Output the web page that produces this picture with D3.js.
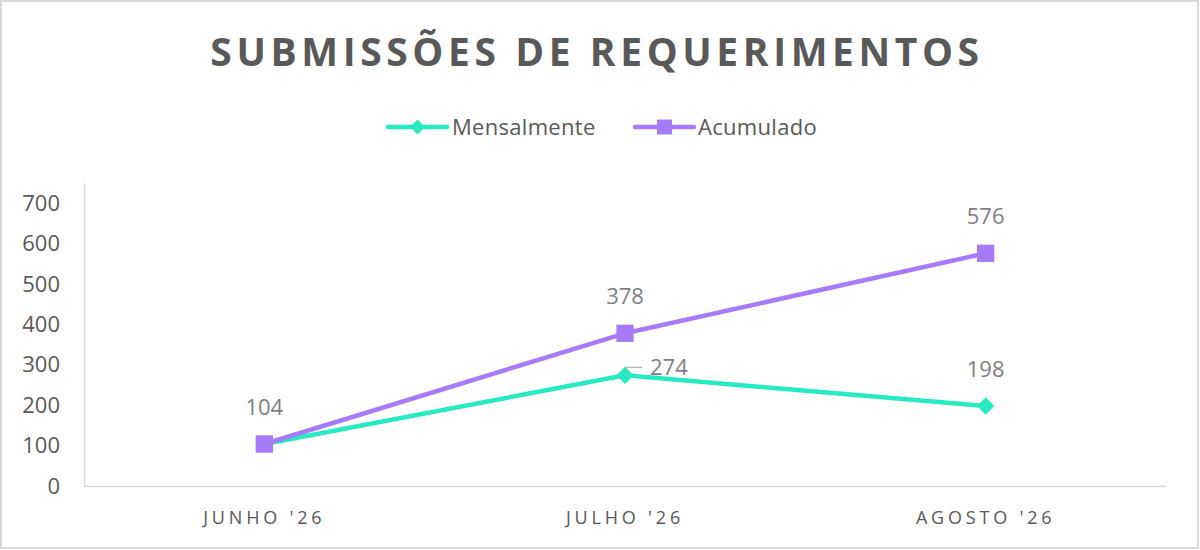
<!DOCTYPE html>
<html>
<head>
<meta charset="utf-8">
<script src="https://cdn.jsdelivr.net/npm/d3@7"></script>
<style>
  body { margin: 0; background: #fff; }
  text { font-family: "Open Sans", sans-serif; }
</style>
</head>
<body>
<div id="chart"></div>
<script>
const categories = ["JUNHO '26", "JULHO '26", "AGOSTO '26"];
const mensalmente = [104, 274, 198];
const acumulado = [104, 378, 576];
const yTicks = [0, 100, 200, 300, 400, 500, 600, 700];

const W = 1200, H = 550;
const svg = d3.select("#chart").append("svg")
    .attr("width", W)
    .attr("height", H);

svg.append("rect")
    .attr("x", 1).attr("y", 1)
    .attr("width", W - 3).attr("height", H - 3)
    .attr("fill", "#fff")
    .attr("stroke", "#d9d9d9")
    .attr("stroke-width", 2);

const margin = { top: 183, right: 34, bottom: 64, left: 84 };
const width = W - margin.left - margin.right,
      height = H - margin.top - margin.bottom;

const x = d3.scaleBand().domain(categories).range([0, width]);
const y = d3.scaleLinear().domain([0, 750]).range([height, 0]);

const g = svg.append("g")
    .attr("transform", `translate(${margin.left},${margin.top})`);

// title
svg.append("text")
    .attr("x", 597)
    .attr("y", 66)
    .attr("text-anchor", "middle")
    .attr("font-size", 39)
    .attr("font-weight", "bold")
    .attr("letter-spacing", 4.6)
    .attr("fill", "#595959")
    .text("SUBMISSÕES DE REQUERIMENTOS");

// axes
const yAxis = g.append("g")
    .call(d3.axisLeft(y).tickValues(yTicks).tickSize(0).tickPadding(24));
yAxis.select(".domain").attr("stroke", "#d9d9d9").attr("stroke-width", 1.5);
yAxis.selectAll("text")
    .attr("font-size", 22)
    .attr("fill", "#595959")
    .attr("font-family", "Open Sans, sans-serif");

const xAxis = g.append("g")
    .attr("transform", `translate(0,${height})`)
    .call(d3.axisBottom(x).tickSize(0).tickPadding(25));
xAxis.select(".domain").attr("stroke", "#d9d9d9").attr("stroke-width", 1.5);
xAxis.selectAll("text")
    .attr("font-size", 18)
    .attr("letter-spacing", 3.8)
    .attr("fill", "#595959")
    .attr("font-family", "Open Sans, sans-serif");

const cx = d => x(d) + x.bandwidth() / 2;

const series = [
    { name: "Mensalmente", values: mensalmente, color: "#26EBC1", symbol: d3.symbolSquare, size: 150, rot: 45 },
    { name: "Acumulado", values: acumulado, color: "#A77BF7", symbol: d3.symbolSquare, size: 300, rot: 0 }
];

const line = d3.line()
    .x((d, i) => cx(categories[i]))
    .y(d => y(d));

// draw Mensalmente first, then Acumulado on top
series.forEach(s => {
    g.append("path")
        .datum(s.values)
        .attr("fill", "none")
        .attr("stroke", s.color)
        .attr("stroke-width", 4.5)
        .attr("stroke-linejoin", "round")
        .attr("d", line);
});
series.forEach(s => {
    g.selectAll(".m-" + s.name)
        .data(s.values)
        .enter().append("path")
        .attr("transform", (d, i) => `translate(${cx(categories[i])},${y(d)}) rotate(${s.rot})`)
        .attr("d", d3.symbol().type(s.symbol).size(s.size))
        .attr("fill", s.color);
});

// data labels
const labelColor = "#7f7f7f";
const labels = g.append("g")
    .attr("font-size", 22)
    .attr("fill", labelColor);

// Acumulado labels above
acumulado.forEach((v, i) => {
    if (i === 0) return;
    labels.append("text")
        .attr("x", cx(categories[i]))
        .attr("y", y(v) - 29)
        .attr("text-anchor", "middle")
        .text(v);
});
// Mensalmente labels
mensalmente.forEach((v, i) => {
    if (i === 1) {
        labels.append("text")
            .attr("x", cx(categories[i]) + 25)
            .attr("y", y(v) + 0)
            .attr("text-anchor", "start")
            .text(v);
        g.append("path")
            .attr("d", `M${cx(categories[i]) + 1},${y(v) - 3}V${y(v) - 8}H${cx(categories[i]) + 17}`)
            .attr("fill", "none")
            .attr("stroke", "#a6a6a6")
            .attr("stroke-width", 1);
    } else {
        labels.append("text")
            .attr("x", cx(categories[i]))
            .attr("y", y(v) - 29)
            .attr("text-anchor", "middle")
            .text(v);
    }
});

// legend
const legend = svg.append("g").attr("transform", "translate(0,127)");
const legendItems = [
    { s: series[0], x: 388, tx: 452 },
    { s: series[1], x: 635, tx: 698 }
];
legendItems.forEach(it => {
    legend.append("line")
        .attr("x1", it.x).attr("x2", it.x + 59)
        .attr("y1", 0).attr("y2", 0)
        .attr("stroke", it.s.color)
        .attr("stroke-width", 4.5)
        .attr("stroke-linecap", "round");
    legend.append("path")
        .attr("transform", `translate(${it.x + 29.5},0) rotate(${it.s.rot})`)
        .attr("d", d3.symbol().type(it.s.symbol).size(it.s.size * 0.75))
        .attr("fill", it.s.color);
    legend.append("text")
        .attr("x", it.tx)
        .attr("y", 8)
        .attr("font-size", 22)
        .attr("letter-spacing", 0.3)
        .attr("fill", "#595959")
        .text(it.s.name);
});
</script>
</body>
</html>
